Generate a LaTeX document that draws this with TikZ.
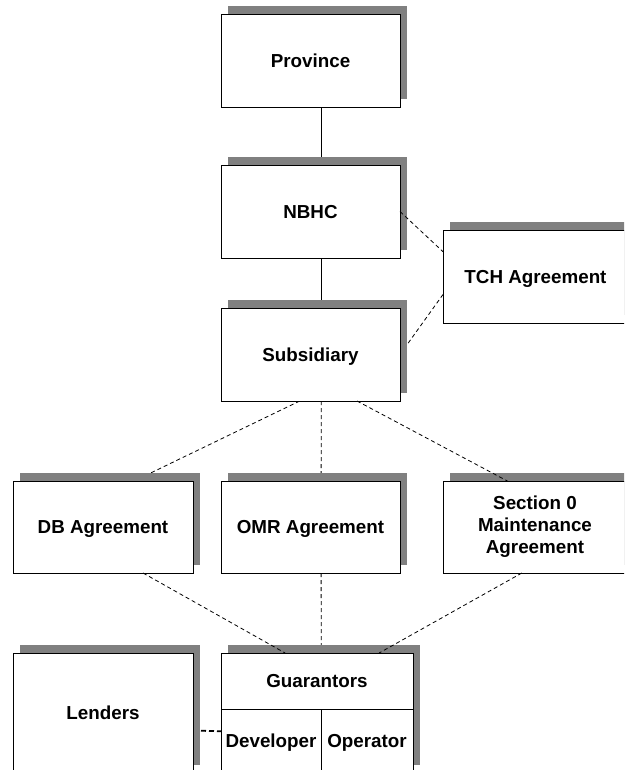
\documentclass[tikz,border=0pt]{standalone}
\usepackage{fontspec}
\setmainfont{Liberation Sans}
\usetikzlibrary{shadows, backgrounds}
\definecolor{edge}{HTML}{000000}
\definecolor{shade}{HTML}{808080}

\begin{document}
\begin{tikzpicture}[x=1pt, y=-1pt,
    every node/.style={font=\fontsize{18.8}{22}\selectfont\bfseries},
    blk/.style={rectangle, draw=edge, fill=white, line width=0.9pt, outer sep=0pt,
                minimum width=179pt, minimum height=93pt},
    shd/.style={drop shadow={shadow xshift=7pt, shadow yshift=8pt, fill=shade, opacity=1}},
    one/.style={text height=13.5pt, text depth=0pt},
    cell/.style={rectangle, draw=edge, line width=0.9pt, outer sep=0pt, inner sep=1pt, one},
    tie/.style={draw=edge, line width=0.9pt},
    dsh/.style={draw=edge, line width=0.8pt, dash pattern=on 4pt off 3pt},
    dshb/.style={draw=edge, line width=1.8pt, dash pattern=on 5pt off 3pt},
]
\useasboundingbox (0,0) rectangle (624,770);
\clip (0,0) rectangle (624,770);

% ================================================================ top column
\node[blk, shd, one] (prov) at (310.5, 61) {Province};
\node[blk, shd, one] (nbhc) at (310.5, 211.5) {NBHC};
\node[blk, shd, one] (sub) at (310.5, 354.5) {Subsidiary};
\node[blk, shd, one, minimum width=185pt] (tch) at (535.5, 276.5) {TCH Agreement};

% ================================================================ agreements
\node[blk, shd, one, minimum width=180pt, minimum height=92pt] (db) at (103, 527) {DB Agreement};
\node[blk, shd, one, minimum height=92pt] (omr) at (310.5, 527) {OMR Agreement};
\node[blk, shd, minimum width=184pt, minimum height=92pt, align=center] (sec) at (535, 527)
    {Section 0\\Maintenance\\Agreement};

% ================================================================ bottom row
\node[blk, shd, one, minimum width=180pt, minimum height=120pt] (lend) at (103, 713) {Lenders};
\node[blk, shd, minimum width=192pt, minimum height=120pt] (guar) at (317, 713) {};
\node[cell, minimum width=192pt, minimum height=56pt] (head) at (317, 681) {Guarantors};
\node[cell, minimum width=100pt, minimum height=64pt] (dev) at (271, 741) {Developer};
\node[cell, minimum width=92pt, minimum height=64pt] (op) at (367, 741) {Operator};

% links that run behind the shadows
\begin{scope}[on background layer]
\draw[tie] (prov.283) -- (nbhc.77);
\draw[tie] (nbhc.283) -- (sub.77);
\draw[dsh] (sub.east) -- (tch.191);
\draw[dsh] (sub.257) -- (db.56);
\draw[dsh] (sub.283) -- (omr.77);
\draw[dsh] (omr.283) -- (guar.86);
\draw[dshb] (lend.349) -- (dev.169);
\end{scope}

% links that reach the box edge
\draw[dsh] (nbhc.east) -- (tch.165);
\draw[dsh] (sub.315) -- (sec.121);
\draw[dsh] (db.311) -- (guar.118);
\draw[dsh] (sec.254) -- (guar.44);
\end{tikzpicture}
\end{document}
